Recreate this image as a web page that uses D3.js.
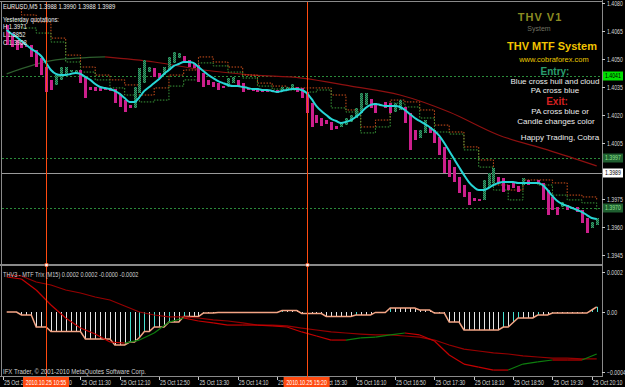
<!DOCTYPE html>
<html><head><meta charset="utf-8">
<script src="https://cdn.jsdelivr.net/npm/d3@7"></script>
<style>
html,body{margin:0;padding:0;background:#000;}
svg{display:block;}
text{font-family:"Liberation Sans",Arial,sans-serif;}
</style></head><body>
<svg id="c" width="625" height="387"></svg>
<script>
// ---------------- DATA ----------------
const opens = [1.40682,1.40639,1.40602,1.40586,1.40575,1.40575,1.40548,1.40505,1.40457,1.40388,
1.40361,1.40388,1.40414,1.40430,1.40420,1.40441,1.40404,1.40350,1.40350,1.40345,
1.40345,1.40345,1.40339,1.40307,1.40280,1.40254,1.40238,1.40318,1.40371,1.40430,
1.40452,1.40425,1.40414,1.40441,1.40479,1.40505,1.40516,1.40495,1.40479,1.40468,
1.40425,1.40388,1.40377,1.40371,1.40355,1.40350,1.40371,1.40388,1.40371,1.40345,
1.40339,1.40345,1.40339,1.40334,1.40334,1.40334,1.40329,1.40334,1.40334,1.40350,
1.40345,1.40323,1.40264,1.40200,1.40184,1.40173,1.40163,1.40141,1.40136,1.40146,
1.40163,1.40184,1.40211,1.40254,1.40286,1.40264,1.40248,1.40270,1.40264,1.40216,
1.40227,1.40243,1.40211,1.40120,1.40077,1.40104,1.40136,1.40120,1.40082,1.40029,
1.39959,1.39921,1.39868,1.39825,1.39788,1.39755,1.39750,1.39745,1.39814,1.39836,
1.39868,1.39863,1.39825,1.39836,1.39820,1.39825,1.39852,1.39841,1.39852,1.39836,
1.39798,1.39761,1.39707,1.39707,1.39718,1.39707,1.39707,1.39691,1.39648,1.39595,
1.39611];
const closes = [1.40575,1.40564,1.40548,1.40559,1.40564,1.40511,1.40457,1.40414,1.40323,1.40334,
1.40414,1.40457,1.40457,1.40441,1.40441,1.40371,1.40291,1.40334,1.40329,1.40329,
1.40334,1.40329,1.40264,1.40243,1.40216,1.40238,1.40350,1.40452,1.40495,1.40457,
1.40404,1.40398,1.40457,1.40511,1.40538,1.40532,1.40479,1.40457,1.40452,1.40377,
1.40350,1.40361,1.40350,1.40334,1.40345,1.40398,1.40404,1.40350,1.40323,1.40334,
1.40334,1.40323,1.40323,1.40323,1.40323,1.40318,1.40350,1.40350,1.40366,1.40323,
1.40291,1.40211,1.40136,1.40157,1.40141,1.40152,1.40120,1.40125,1.40163,1.40184,
1.40200,1.40238,1.40318,1.40318,1.40238,1.40211,1.40259,1.40238,1.40211,1.40264,
1.40280,1.40157,1.40013,1.40066,1.40120,1.40173,1.40104,1.40050,1.39986,1.39889,
1.39868,1.39841,1.39782,1.39761,1.39718,1.39739,1.39739,1.39852,1.39889,1.39916,
1.39836,1.39788,1.39798,1.39809,1.39788,1.39863,1.39825,1.39836,1.39836,1.39745,
1.39664,1.39691,1.39664,1.39734,1.39691,1.39702,1.39680,1.39621,1.39568,1.39627,
1.39648];
// Hull MA (cyan)
const hull = [1.40655,1.40634,1.40618,1.40596,1.40575,1.40554,1.40538,1.40516,1.40479,1.40441,
1.40420,1.40414,1.40414,1.40420,1.40425,1.40420,1.40404,1.40388,1.40366,1.40350,
1.40345,1.40339,1.40329,1.40313,1.40291,1.40270,1.40270,1.40296,1.40329,1.40350,
1.40371,1.40393,1.40420,1.40441,1.40463,1.40473,1.40484,1.40484,1.40479,1.40457,
1.40436,1.40414,1.40398,1.40382,1.40371,1.40361,1.40355,1.40355,1.40350,1.40345,
1.40339,1.40339,1.40334,1.40334,1.40329,1.40323,1.40329,1.40334,1.40339,1.40339,
1.40334,1.40318,1.40286,1.40248,1.40221,1.40200,1.40179,1.40168,1.40157,1.40163,
1.40173,1.40189,1.40211,1.40238,1.40254,1.40259,1.40254,1.40248,1.40248,1.40248,
1.40243,1.40227,1.40205,1.40184,1.40168,1.40152,1.40136,1.40114,1.40088,1.40050,
1.40007,1.39964,1.39921,1.39879,1.39841,1.39814,1.39798,1.39798,1.39809,1.39825,
1.39836,1.39841,1.39841,1.39841,1.39836,1.39836,1.39836,1.39836,1.39836,1.39825,
1.39798,1.39766,1.39739,1.39723,1.39713,1.39702,1.39691,1.39680,1.39664,1.39648,
1.39643];
// MTF cloud (M15 steps, one value every 3 bars)
const cloudA = [1.40773,1.40736,1.40698,1.40612,1.40521,1.40457,1.40414,1.40388,1.40361,1.40307,
1.40345,1.40414,1.40441,1.40511,1.40484,1.40457,1.40414,1.40371,1.40355,1.40345,
1.40345,1.40345,1.40307,1.40227,1.40136,1.40173,1.40280,1.40270,1.40227,1.40146,
1.40109,1.40029,1.39959,1.39825,1.39798,1.39852,1.39852,1.39836,1.39771,1.39761,
1.39745];
const cloudB = [1.40709,1.40666,1.40639,1.40591,1.40484,1.40430,1.40388,1.40345,1.40307,1.40270,
1.40280,1.40355,1.40388,1.40479,1.40463,1.40430,1.40398,1.40355,1.40339,1.40334,
1.40323,1.40334,1.40238,1.40216,1.40104,1.40136,1.40264,1.40243,1.40184,1.40109,
1.40098,1.40013,1.39921,1.39798,1.39745,1.39836,1.39825,1.39771,1.39745,1.39729,
1.39691];
// long moving average, one value every 10 bars
const slowMA = [1.40420,1.40495,1.40511,1.40484,1.40441,1.40414,1.40398,1.40355,1.40307,1.40216,1.40093,1.40013,1.39927];
// horizontal levels
const greenLevels = [1.4041, 1.3997, 1.3970];
const bidLevel = 1.3989;
const priceTicks = [1.4080,1.4065,1.4050,1.4035,1.4020,1.4005,1.3975,1.3960,1.3945];
const priceTags = [1.4041, 1.3997, 1.3989, 1.3970];
// lower window: THV3 MTF Trix
const trixHist = [0,0,0,-0.00002,-0.00002,-0.00002,-0.0001,-0.0001,-0.0001,
-0.00013,-0.00013,-0.00013,-0.00013,-0.00013,-0.00013,-0.00013,
-0.00018,-0.00018,-0.00018,-0.00018,-0.00018,-0.00018,
-0.00022,-0.00022,-0.00022,-0.0002,-0.0002,-0.00017,-0.00013,-0.00013,
-0.0001,-0.0001,-0.0001,-0.000067,-0.000067,-0.000067,
-0.00003,-0.00003,-0.00003,-0.00003,-0.000007,-0.000007,-0.000007,
-0.000003,-0.000003,-0.000003,-0.000003,-0.000003,-0.000003,-0.000003,-0.000003,-0.000003,-0.000003,-0.000003,-0.000003,-0.000003,
0.000007,0.000007,0.000007,0.000007,
-0.00001,-0.00001,-0.00001,-0.00001,-0.00001,
-0.00003,-0.00003,-0.00003,-0.00003,-0.00003,-0.00003,
-0.00002,-0.00002,-0.00002,-0.00002,
-0.000003,-0.000003,-0.000003,
0.00002,0.00002,0.00002,0.00002,0.00002,0.00002,
0.00001,0.00001,0.00001,
-0.000007,-0.000007,-0.000007,
-0.000067,-0.000067,-0.000067,
-0.00012,-0.00012,-0.00012,-0.00012,-0.00012,-0.00012,-0.00012,-0.00012,
-0.0001,-0.0001,-0.00007,
-0.00004,-0.00004,-0.00004,-0.00004,
-0.00002,-0.00002,-0.00002,
-0.000007,-0.000007,-0.000007,-0.000007,-0.000007,-0.000007,-0.000007,-0.000007,
0.00001,0.000026];
const trixSlow = [0.000185,0.00018,0.00015,0.000135,0.00011,0.000095,0.000075,0.00006,0.00003,0,
-0.00002,-0.000033,-0.000033,-0.00004,-0.000053,-0.00006,-0.000073,-0.000087,-0.000087,-0.000093,
-0.000107,-0.00012,-0.000133,-0.00014,-0.000147,-0.000153,-0.000153,-0.00016,-0.000167,-0.000187,
-0.00022,-0.000247,-0.00026,-0.000273,-0.00028,-0.000293,-0.0003,-0.000307,-0.000307,-0.000313,
-0.000313];
const trixFast = [0.000175,0.000165,0.00011,0.000035,-0.00004,-0.000107,-0.000147,-0.0002,-0.000207,-0.000187,
-0.00014,-0.000067,-0.00004,-0.00006,-0.000073,-0.000087,-0.000087,-0.000087,-0.000093,-0.0001,
-0.000133,-0.00016,-0.000187,-0.000187,-0.000173,-0.000167,-0.000153,-0.00014,-0.000153,-0.000193,
-0.000287,-0.000347,-0.000367,-0.000387,-0.000387,-0.000347,-0.000333,-0.00032,-0.00032,-0.00032,
-0.00028];
const trixTicks = [0.0002, 0, -0.0004];
// time axis (bar index of each label; bar 0 = 10:15, M5)
const timeLabels = ["25 Oct 2010","25 Oct 10:50","25 Oct 11:30","25 Oct 12:10","25 Oct 12:50","25 Oct 13:30","25 Oct 14:10","25 Oct 14:50","25 Oct 15:30","25 Oct 16:10","25 Oct 16:50","25 Oct 17:30","25 Oct 18:10","25 Oct 18:50","25 Oct 19:30","25 Oct 20:10"];
const timeLabelBars = [-0.75,7,15,23,31,39,47,55,63,71,79,87,95,103,111,119];
const crossBars = [8, 61];
const crossLabels = ["2010.10.25 10:55","2010.10.25 15:20"];

// ---------------- DRAW ----------------
const svg = d3.select("#c");
const W=625,H=387, AX=602;
const mainTop=3, mainBot=264, lowTop=268, lowBot=376;
const FS = 6.5, SX = 0.8;

const xS = d3.scaleLinear().domain([0,120]).range([6.7,596.7]);
const yS = d3.scaleLinear().domain([1.3945,1.4080]).range([255,3]);
const yL = d3.scaleLinear().domain([-0.0004,0,0.0002]).range([372,312,272]);
const bars = d3.range(opens.length);

svg.append("rect").attr("width",W).attr("height",H).attr("fill","#000");
const defs = svg.append("defs");
defs.append("clipPath").attr("id","cm").append("rect").attr("x",2).attr("y",mainTop).attr("width",AX-2).attr("height",mainBot-mainTop);
defs.append("clipPath").attr("id","cl").append("rect").attr("x",2).attr("y",lowTop).attr("width",AX-2).attr("height",lowBot-lowTop);
const pat = defs.append("pattern").attr("id","gp").attr("width",2).attr("height",2).attr("patternUnits","userSpaceOnUse");
pat.append("rect").attr("width",2).attr("height",2).attr("fill","#17583a");
pat.append("rect").attr("width",1).attr("height",1).attr("fill","#35a06a");
pat.append("rect").attr("x",1).attr("y",1).attr("width",1).attr("height",1).attr("fill","#35a06a");

// narrow text helper (the terminal font is condensed)
function ntext(sel, x, y, t, opts){
  opts = opts||{};
  const g = sel.append("text")
    .attr("transform",`translate(${x},${y}) scale(${opts.sx||SX},1)`)
    .attr("font-size",(opts.fs||FS)+"px").attr("fill",opts.fill||"#d8d8d8")
    .attr("text-anchor",opts.anchor||"start").text(t);
  if(opts.dy) g.attr("dy",opts.dy);
  return g;
}

const gm = svg.append("g").attr("clip-path","url(#cm)");
const gl = svg.append("g").attr("clip-path","url(#cl)");

// horizontal levels
gm.selectAll("line.lvl").data(greenLevels).enter().append("line")
  .attr("x1",2).attr("x2",AX).attr("y1",d=>Math.round(yS(d))+0.5).attr("y2",d=>Math.round(yS(d))+0.5)
  .attr("stroke","#2a8a3a").attr("stroke-dasharray","2,2");
gm.append("line").attr("x1",2).attr("x2",AX).attr("y1",Math.round(yS(bidLevel))+0.5).attr("y2",Math.round(yS(bidLevel))+0.5)
  .attr("stroke","#9a9a9a");

// slow MA coloured by slope
const maPts = slowMA.map((v,i)=>[xS(i*10), yS(v)]);
const maCurve = d3.line().curve(d3.curveMonotoneX);
gm.append("path").attr("d",maCurve(maPts.slice(0,3))).attr("fill","none").attr("stroke","#2e5f2e").attr("stroke-width",1.2);
gm.append("path").attr("d",maCurve(maPts.slice(2))).attr("fill","none").attr("stroke","#8e1010").attr("stroke-width",1.2);

// cloud (dotted step lines)
const stepLine = d3.line().x((d,i)=>xS(i*3)).y(d=>yS(d)).curve(d3.curveStepAfter);
gm.append("path").attr("d",stepLine(cloudA)).attr("fill","none").attr("stroke","#d0501c").attr("stroke-dasharray","1.5,1.5");
gm.append("path").attr("d",stepLine(cloudB)).attr("fill","none").attr("stroke","#3a9a3a").attr("stroke-dasharray","1.5,1.5");

// candle bodies
gm.selectAll("rect.cd").data(bars).enter().append("rect")
  .attr("x",i=>Math.round(xS(i))-1).attr("width",3)
  .attr("y",i=>Math.round(yS(Math.max(opens[i],closes[i]))))
  .attr("height",i=>Math.max(2,Math.round(Math.abs(yS(opens[i])-yS(closes[i])))))
  .attr("fill",i=>closes[i]>=opens[i] ? "url(#gp)" : "#cc1f8c")
  .attr("shape-rendering","crispEdges");

// hull line
gm.append("path").attr("d",d3.line().x((d,i)=>xS(i)).y(d=>yS(d)).curve(d3.curveMonotoneX)(hull))
  .attr("fill","none").attr("stroke","#27d6d6").attr("stroke-width",2);

// ---------- lower window ----------
gl.selectAll("line.h").data(bars).enter().append("line")
  .attr("x1",i=>Math.round(xS(i))+0.5).attr("x2",i=>Math.round(xS(i))+0.5)
  .attr("y1",yL(0)).attr("y2",i=>yL(trixHist[i]))
  .attr("stroke",i=> (i>0 && trixHist[i]>trixHist[i-1]) ? "#45e0d0" : "#e6e6e6");
gl.append("path").attr("d",d3.line().x((d,i)=>xS(i)).y(d=>yL(d))(trixHist))
  .attr("fill","none").attr("stroke","#f3a585").attr("stroke-width",1.5);
const tx = (d,i)=>[xS(i*3), yL(d)];
gl.append("path").attr("d",d3.line()(trixSlow.map(tx))).attr("fill","none").attr("stroke","#960000").attr("stroke-width",1.2);
for(let i=0;i<trixFast.length-1;i++){
  gl.append("path").attr("d",d3.line()([tx(trixFast[i],i),tx(trixFast[i+1],i+1)]))
    .attr("fill","none").attr("stroke", trixFast[i+1]>trixFast[i] ? "#0e7d0e" : "#c40000").attr("stroke-width",1.2);
}

// panel separators and frame
svg.append("rect").attr("x",0).attr("y",264).attr("width",AX).attr("height",2).attr("fill","#8a8a8a");
svg.append("line").attr("x1",0).attr("x2",AX).attr("y1",376.5).attr("y2",376.5).attr("stroke","#8a8a8a");
svg.append("line").attr("x1",0).attr("x2",AX).attr("y1",1.5).attr("y2",1.5).attr("stroke","#8a8a8a");
svg.append("line").attr("x1",1.5).attr("x2",1.5).attr("y1",1).attr("y2",377).attr("stroke","#8a8a8a");
svg.append("line").attr("x1",AX+0.5).attr("x2",AX+0.5).attr("y1",0).attr("y2",377).attr("stroke","#8a8a8a");

// crosshair verticals
crossBars.forEach(b=>{
  const x=Math.round(xS(b))+0.5;
  svg.append("line").attr("x1",x).attr("x2",x).attr("y1",2).attr("y2",377).attr("stroke","#ff4a10");
  svg.append("rect").attr("x",x-1.5).attr("y",263.5).attr("width",3).attr("height",3).attr("fill","#fff").attr("stroke","#ff4a10").attr("stroke-width",0.5);
});

// right price axis
const ax = d3.axisRight(yS).tickValues(priceTicks).tickSize(3).tickPadding(2).tickFormat(()=>"");
const ga = svg.append("g").attr("transform",`translate(${AX},0)`).call(ax);
ga.select(".domain").remove();
ga.selectAll("line").attr("stroke","#c8c8c8");
ga.selectAll(".tick").each(function(d){
  ntext(d3.select(this), 5, 0, d3.format(".4f")(d), {dy:"0.35em"});
});
const tagStyle = [["#00e000","#000"],["#1f5f30","#8fe08f"],["#ffffff","#000"],["#1f5f30","#8fe08f"]];
priceTags.forEach((p,i)=>{
  const y=Math.round(yS(p));
  svg.append("rect").attr("x",AX+1).attr("y",y-4.5).attr("width",20).attr("height",9).attr("fill",tagStyle[i][0]);
  ntext(svg, AX+3, y, d3.format(".4f")(p), {fill:tagStyle[i][1], dy:"0.35em"});
});
// lower axis
const axL = d3.axisRight(yL).tickValues(trixTicks).tickSize(3).tickPadding(2).tickFormat(()=>"");
const gal = svg.append("g").attr("transform",`translate(${AX},0)`).call(axL);
gal.select(".domain").remove();
gal.selectAll("line").attr("stroke","#c8c8c8");
gal.selectAll(".tick").each(function(d){
  ntext(d3.select(this), 5, 0, d===0?"0.00":d3.format(".4f")(d), {dy:"0.35em"});
});

// time axis
timeLabels.forEach((t,i)=>{
  const x=xS(timeLabelBars[i]);
  svg.append("line").attr("x1",Math.round(x)+0.5).attr("x2",Math.round(x)+0.5).attr("y1",377).attr("y2",380).attr("stroke","#c8c8c8");
  ntext(svg, x+1, 385, t);
});
crossBars.forEach((b,i)=>{
  const x=xS(b);
  svg.append("rect").attr("x",x-23).attr("y",377).attr("width",46).attr("height",10).attr("fill","#ff4a10");
  ntext(svg, x, 385, crossLabels[i], {anchor:"middle", fill:"#fff"});
});

// texts, top-left
ntext(svg,3,8.5,"EURUSD,M5  1.3988 1.3990 1.3988 1.3989",{sx:0.9,fill:"#ececec"});
ntext(svg,3,22,"Yesterday quotations:",{sx:0.9,fill:"#ececec"});
ntext(svg,3,29,"H 1.3971",{sx:0.9,fill:"#ececec"});
ntext(svg,3,37,"L 1.3852",{sx:0.9,fill:"#ececec"});
ntext(svg,3,45,"C 1.3908",{sx:0.9,fill:"#ececec"});
ntext(svg,3,276.5,"THV3 - MTF Trix (M15) 0.0002 0.0002 -0.0000 -0.0002",{sx:0.86,fill:"#d0d0d0"});
ntext(svg,3,373.5,"IFX Trader, © 2001-2010 MetaQuotes Software Corp.",{sx:0.93,fill:"#d0d0d0"});

// info panel (right)
const info = svg.append("g").attr("text-anchor","middle");
const put=(x,y,t,size,col,bold,ls)=>info.append("text").attr("x",x).attr("y",y).attr("dy","0.35em")
  .attr("font-size",size+"px").attr("fill",col).attr("font-weight",bold?"bold":"normal").attr("letter-spacing",ls||0).text(t);
put(540,17,"THV V1",11,"#8c8c22",true,1);
put(539,29,"System",7,"#707060",false);
put(552,46,"THV MTF System",11,"#f2c400",true);
put(554,59,"www.cobraforex.com",7.5,"#e8c800",false);
put(555,71,"Entry:",10,"#2a9d6e",true);
put(555,81,"Blue cross hull and cloud",8,"#ececec",false);
put(555,90,"PA cross blue",8,"#ececec",false);
put(557,101,"Exit:",10,"#d42020",true);
put(560,111,"PA cross blue or",8,"#ececec",false);
put(556,121,"Candle changes color",8,"#ececec",false);
put(560,137,"Happy Trading, Cobra",8,"#ececec",false);
</script>
</body></html>
